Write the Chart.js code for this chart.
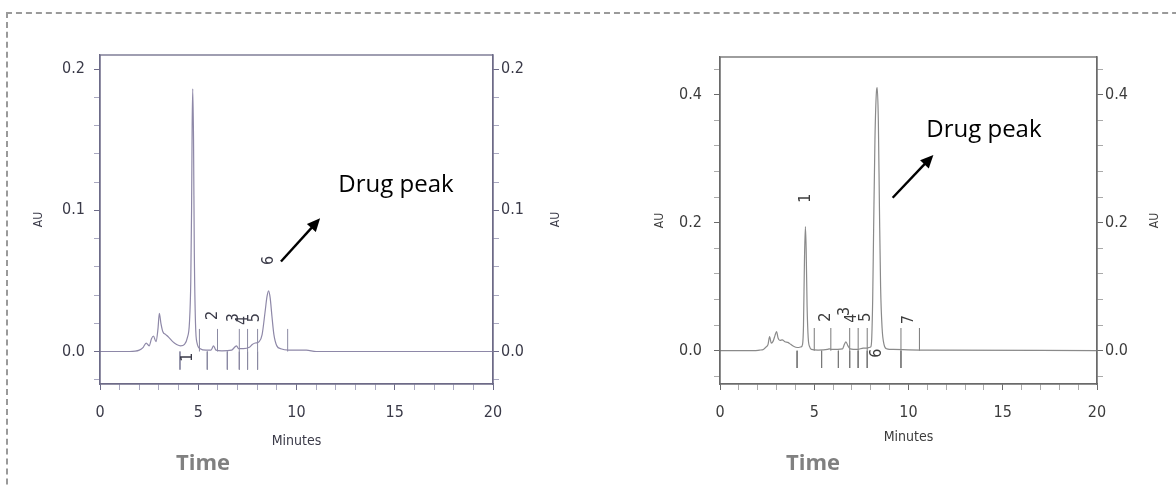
<!DOCTYPE html>
<html><head><meta charset="utf-8">
<script src="https://cdn.jsdelivr.net/npm/chart.js@4.4.0/dist/chart.umd.min.js"></script>
<style>
html,body{margin:0;padding:0;background:#fff;}
body{width:1176px;height:486px;position:relative;overflow:hidden;}
#frame{position:absolute;left:6px;top:12px;width:1200px;height:520px;border-top:2px dashed #9a9a9a;border-left:2px dashed #9a9a9a;}
canvas{position:absolute;top:0;}
#c1{left:0}
#c2{left:600px}
</style></head><body>
<div id="frame"></div>
<canvas id="c1" width="600" height="486"></canvas>
<canvas id="c2" width="576" height="486"></canvas>
<script>
// ---------- DATA ----------
const leftTimes = [0,1.5,2.0,2.2,2.35,2.5,2.62,2.72,2.85,2.95,3.02,3.1,3.2,3.35,3.5,3.7,3.9,4.1,4.3,4.45,4.55,4.62,4.66,4.69,4.72,4.76,4.8,4.86,4.94,5.1,5.4,5.65,5.78,5.9,6.2,6.7,6.85,6.95,7.05,7.3,7.6,7.75,7.9,8.1,8.25,8.4,8.5,8.58,8.66,8.75,8.85,9.0,9.2,9.6,10.5,11,20];
const leftAU    = [0,0,0.001,0.003,0.006,0.004,0.009,0.011,0.007,0.016,0.027,0.02,0.014,0.012,0.01,0.007,0.005,0.004,0.005,0.01,0.02,0.05,0.1,0.16,0.186,0.15,0.07,0.02,0.006,0.002,0.001,0.001,0.004,0.001,0.0005,0.001,0.003,0.004,0.002,0.002,0.003,0.005,0.006,0.007,0.012,0.028,0.039,0.043,0.038,0.025,0.012,0.004,0.002,0.001,0.001,0,0];

const rightTimes = [0,1.8,2.1,2.3,2.45,2.55,2.63,2.72,2.82,2.92,3.0,3.08,3.18,3.3,3.45,3.6,3.75,3.9,4.1,4.3,4.38,4.43,4.48,4.53,4.57,4.62,4.68,4.76,4.85,5.2,5.7,5.8,5.9,6.5,6.6,6.68,6.78,6.9,7.3,7.6,7.8,7.9,8.0,8.05,8.1,8.15,8.22,8.3,8.34,8.4,8.46,8.52,8.6,8.7,8.85,9.2,10.6,11,20];
const rightAU    = [0,0,0.001,0.002,0.006,0.01,0.022,0.012,0.015,0.024,0.03,0.02,0.016,0.017,0.014,0.013,0.01,0.007,0.005,0.006,0.01,0.04,0.14,0.194,0.16,0.07,0.02,0.006,0.002,0.001,0.002,0.003,0.002,0.003,0.01,0.014,0.008,0.003,0.002,0.004,0.004,0.005,0.006,0.02,0.08,0.19,0.33,0.405,0.411,0.36,0.22,0.1,0.035,0.01,0.003,0.002,0.001,0.001,0];

const leftMarksUp   = [5.06,5.98,7.09,7.51,8.02,9.55];
const leftMarksDown = [4.07,5.46,6.48,7.09,7.51,8.02];
const rightMarksUp   = [5.0,5.88,6.88,7.33,7.81,9.6,10.58];
const rightMarksDown = [4.09,5.39,6.28,6.88,7.33,7.81,9.6];

const leftPeakNames = ['1','2','3','4','5','6'];
const leftPeakTimes = [4.48,5.73,6.82,7.26,7.89,8.57];
const leftPeakAU    = [-0.004,0.0255,0.024,0.022,0.024,0.0645];
const rightPeakNames = ['1','2','3','4','5','6','7'];
const rightPeakTimes = [4.56,5.61,6.61,7.02,7.72,8.33,10.0];
const rightPeakAU    = [0.2385,0.0526,0.0615,0.051,0.0526,-0.0037,0.0484];

const xTickLabels = ['0','5','10','15','20'];
const leftYTickLabels = ['0.0','0.1','0.2'];
const rightYTickLabels = ['0.0','0.2','0.4'];

const leftArrowFrom = [9.21,0.0638], leftArrowTo = [11.2,0.0943], leftDrugPos = [15.06,0.1177];
const rightArrowFrom = [9.16,0.239], rightArrowTo = [11.32,0.306], rightDrugPos = [14.0,0.344];

// ---------- HELPERS ----------
const NARROW = '"Liberation Sans Narrow","Arial Narrow","DejaVu Sans Condensed","Liberation Sans",sans-serif';
function xy(ts, vs){ return ts.map((t,i)=>({x:t,y:vs[i]})); }
function markData(up, down, upLen, downLen){
  const d=[];
  up.forEach(t=>{d.push({x:t,y:0},{x:t,y:upLen},{x:t,y:null});});
  down.forEach(t=>{d.push({x:t,y:0},{x:t,y:-downLen},{x:t,y:null});});
  return d;
}
function near(v, step){ return Math.abs(v/step - Math.round(v/step)) < 1e-6; }

function makeChart(canvas, cfg){
  const overlay = {
    id:'overlay',
    afterDraw(chart){
      const {ctx, chartArea:a, scales:{x,y}} = chart;
      ctx.save();
      ctx.strokeStyle = cfg.axisColor; ctx.lineWidth = 1.3;
      ctx.strokeRect(a.left, a.top, a.right-a.left, a.bottom-a.top);
      ctx.fillStyle = cfg.labelColor;
      ctx.font = '16px ' + NARROW;
      ctx.textAlign='center'; ctx.textBaseline='middle';
      cfg.peakNames.forEach((n,i)=>{
        ctx.save();
        ctx.translate(x.getPixelForValue(cfg.peakTimes[i]), y.getPixelForValue(cfg.peakAU[i]));
        ctx.rotate(-Math.PI/2);
        ctx.fillText(n,0,0);
        ctx.restore();
      });
      const x1=x.getPixelForValue(cfg.arrowFrom[0]), y1=y.getPixelForValue(cfg.arrowFrom[1]);
      const x2=x.getPixelForValue(cfg.arrowTo[0]), y2=y.getPixelForValue(cfg.arrowTo[1]);
      const ang=Math.atan2(y2-y1,x2-x1), hl=13, hw=6;
      ctx.strokeStyle='#000'; ctx.fillStyle='#000'; ctx.lineWidth=2.4;
      ctx.beginPath(); ctx.moveTo(x1,y1);
      ctx.lineTo(x2-Math.cos(ang)*hl*0.8, y2-Math.sin(ang)*hl*0.8); ctx.stroke();
      ctx.beginPath(); ctx.moveTo(x2,y2);
      ctx.lineTo(x2-Math.cos(ang)*hl+Math.sin(ang)*hw, y2-Math.sin(ang)*hl-Math.cos(ang)*hw);
      ctx.lineTo(x2-Math.cos(ang)*hl-Math.sin(ang)*hw, y2-Math.sin(ang)*hl+Math.cos(ang)*hw);
      ctx.closePath(); ctx.fill();
      ctx.font = '24px "Open Sans", sans-serif';
      ctx.fillStyle='#000';
      ctx.fillText('Drug peak', x.getPixelForValue(cfg.drugPos[0]), y.getPixelForValue(cfg.drugPos[1]));
      ctx.save();
      ctx.translate(a.right + cfg.rightAUOffset, (a.top+a.bottom)/2);
      ctx.rotate(-Math.PI/2);
      ctx.font = '12px ' + NARROW; ctx.fillStyle = cfg.labelColor;
      ctx.fillText('AU',0,0);
      ctx.restore();
      ctx.font = 'bold 22px "Open Sans", sans-serif';
      ctx.fillStyle = '#808080';
      ctx.fillText('Time', a.left + cfg.timeOffset, 464);
      ctx.restore();
    }
  };
  const yTicks=[]; for(let i=cfg.yTickFrom;i<=cfg.yTickTo;i++) yTicks.push(Math.round(i*cfg.yMinor*1000)/1000);
  const xTicks=[]; for(let i=0;i<=20;i++) xTicks.push(i);
  const yLabel = v => near(v, cfg.yMajor) ? cfg.yLabels[Math.round(v/cfg.yMajor)] : '';
  const tickFont = {family:NARROW, size:16};
  const yGrid = {drawOnChartArea:false, tickLength:6,
      tickColor: c => (c.tick && near(c.tick.value, cfg.yMajor)) ? cfg.axisColor : cfg.minorColor, tickWidth:1};
  return new Chart(canvas, {
    type:'line',
    data:{datasets:[
      {data:xy(cfg.times,cfg.values), borderColor:cfg.traceColor, borderWidth:1.2, pointRadius:0, cubicInterpolationMode:'monotone', tension:0.4},
      {data:markData(cfg.marksUp,cfg.marksDown,cfg.upLen,cfg.downLen), borderColor:cfg.markColor, borderWidth:1, pointRadius:0, spanGaps:false, tension:0}
    ]},
    options:{
      responsive:false, animation:false, events:[],
      layout:{padding:{top:cfg.top,left:0,right:0,bottom:0}},
      plugins:{legend:{display:false}, tooltip:{enabled:false}},
      scales:{
        x:{type:'linear', min:0, max:20,
           afterBuildTicks: ax => { ax.ticks = xTicks.map(v=>({value:v})); },
           afterFit: ax => { ax.height = 102; },
           ticks:{autoSkip:false, maxRotation:0, padding:cfg.xPad, color:cfg.labelColor, font:tickFont,
                  callback: v => (v%5===0) ? xTickLabels[v/5] : ''},
           grid:{drawOnChartArea:false, tickLength:6,
                 tickColor: c => (c.tick && c.tick.value%5===0) ? cfg.axisColor : cfg.minorColor},
           border:{display:true,color:cfg.axisColor,width:1.3},
           title:{display:true, text:'Minutes', color:cfg.labelColor, font:{family:NARROW,size:14}, padding:{top:0,bottom:cfg.minPad}}},
        y:{type:'linear', position:'left', min:cfg.yMin, max:cfg.yMax,
           afterBuildTicks: ax => { ax.ticks = yTicks.map(v=>({value:v})); },
           afterFit: ax => { ax.width = cfg.leftW; },
           ticks:{autoSkip:false, padding:cfg.yPadL, color:cfg.labelColor, font:tickFont, callback:yLabel},
           grid:yGrid, border:{display:true,color:cfg.axisColor,width:1.3},
           title:{display:true, text:'AU', color:cfg.labelColor, font:{family:NARROW,size:12}, padding:{top:cfg.auPad,bottom:0}}},
        y2:{type:'linear', position:'right', min:cfg.yMin, max:cfg.yMax,
           afterBuildTicks: ax => { ax.ticks = yTicks.map(v=>({value:v})); },
           afterFit: ax => { ax.width = cfg.rightW; },
           ticks:{autoSkip:false, padding:cfg.yPadR, color:cfg.labelColor, font:tickFont, callback:yLabel},
           grid:yGrid, border:{display:true,color:cfg.axisColor,width:1.3}}
      }
    },
    plugins:[overlay]
  });
}

makeChart(document.getElementById('c1'), {
  times:leftTimes, values:leftAU, marksUp:leftMarksUp, marksDown:leftMarksDown, upLen:0.016, downLen:0.0128,
  peakNames:leftPeakNames, peakTimes:leftPeakTimes, peakAU:leftPeakAU,
  arrowFrom:leftArrowFrom, arrowTo:leftArrowTo, drugPos:leftDrugPos,
  yMin:-0.023, yMax:0.21, yMinor:0.02, yMajor:0.1, yTickFrom:-1, yTickTo:10, yLabels:leftYTickLabels,
  top:55, leftW:100, rightW:107, yPadL:9, yPadR:2, xPad:13, minPad:36, auPad:32,
  rightAUOffset:63, timeOffset:103,
  axisColor:'#6d6b88', minorColor:'#a9a8c0', labelColor:'#3a3a48', traceColor:'#8e88a8', markColor:'#8b8aa3'
});
makeChart(document.getElementById('c2'), {
  times:rightTimes, values:rightAU, marksUp:rightMarksUp, marksDown:rightMarksDown, upLen:0.0355, downLen:0.027,
  peakNames:rightPeakNames, peakTimes:rightPeakTimes, peakAU:rightPeakAU,
  arrowFrom:rightArrowFrom, arrowTo:rightArrowTo, drugPos:rightDrugPos,
  yMin:-0.052, yMax:0.459, yMinor:0.04, yMajor:0.2, yTickFrom:-1, yTickTo:11, yLabels:rightYTickLabels,
  top:57, leftW:120, rightW:79, yPadL:12, yPadR:2, xPad:13, minPad:40, auPad:53,
  rightAUOffset:58, timeOffset:93,
  axisColor:'#6a6a6a', minorColor:'#aaaaaa', labelColor:'#3c3c3c', traceColor:'#8a8a8a', markColor:'#7a7a7a'
});
</script>
</body></html>
